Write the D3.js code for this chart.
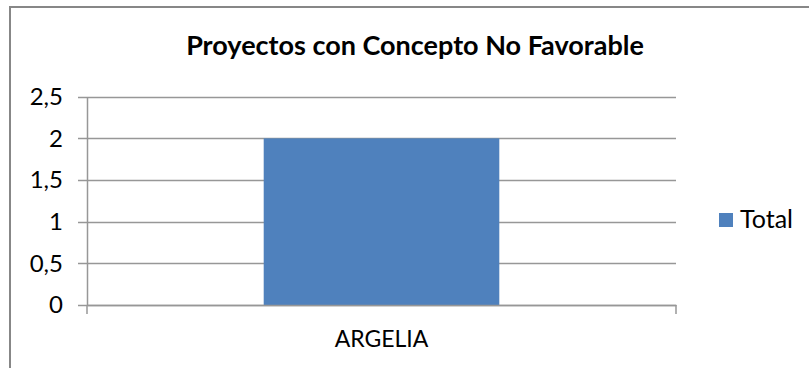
<!DOCTYPE html>
<html>
<head>
<meta charset="utf-8">
<script src="https://cdn.jsdelivr.net/npm/d3@7"></script>
<style>
  html, body { margin: 0; padding: 0; background: #fff; }
  svg { display: block; }
  text { font-family: Lato, "Open Sans", sans-serif; fill: #000; }
</style>
</head>
<body>
<svg id="chart" width="809" height="368"></svg>
<script>
const title = "Proyectos con Concepto No Favorable";
const categories = ["ARGELIA"];
const seriesName = "Total";
const values = [2];
const yTicks = [0, 0.5, 1, 1.5, 2, 2.5];
const yTickLabels = ["0", "0,5", "1", "1,5", "2", "2,5"];

const svg = d3.select("#chart");
const W = 809, H = 368;

// outer frame (cropped at right and bottom)
svg.append("rect")
  .attr("x", 10).attr("y", 7)
  .attr("width", W + 20).attr("height", H + 20)
  .attr("fill", "#fff")
  .attr("stroke", "#878787").attr("stroke-width", 2);

const plot = { left: 87, right: 676, top: 96.7, bottom: 305 };

const x = d3.scaleBand()
  .domain(categories)
  .range([plot.left, plot.right])
  .paddingInner(0)
  .paddingOuter(0.75);

const y = d3.scaleLinear()
  .domain([0, 2.5])
  .range([plot.bottom, plot.top]);

const gridColor = "#979797";

// gridlines
svg.append("g")
  .selectAll("line")
  .data(yTicks)
  .join("line")
  .attr("x1", plot.left - 9).attr("x2", plot.right)
  .attr("y1", d => Math.round(y(d)) + 0.5).attr("y2", d => Math.round(y(d)) + 0.5)
  .attr("stroke", gridColor).attr("stroke-width", 1.5);

// bars
svg.append("g")
  .selectAll("rect")
  .data(values)
  .join("rect")
  .attr("x", (d, i) => x(categories[i]))
  .attr("y", d => y(d))
  .attr("width", x.bandwidth())
  .attr("height", d => y(0) - y(d))
  .attr("fill", "#4F81BD");

// y axis
const yAxis = d3.axisLeft(y)
  .tickValues(yTicks)
  .tickFormat((d, i) => yTickLabels[i])
  .tickSize(0)
  .tickPadding(24);
const gy = svg.append("g").attr("transform", `translate(${plot.left},0)`).call(yAxis);
gy.select(".domain").attr("stroke", gridColor).attr("stroke-width", 1.5);
gy.selectAll("text")
  .attr("font-size", 24)
  .attr("font-family", "Lato, sans-serif")
  .attr("fill", "#000");

// x axis
const xAxis = d3.axisBottom(x).tickSize(0).tickPadding(26);
const gx = svg.append("g").attr("transform", `translate(0,${plot.bottom})`).call(xAxis);
gx.select(".domain").attr("stroke", gridColor).attr("stroke-width", 1.5);
gx.selectAll("text")
  .attr("font-size", 23)
  .attr("font-family", "Lato, sans-serif")
  .attr("fill", "#000");
// category boundary tick marks
const bounds = [plot.left, plot.right];
svg.append("g")
  .selectAll("line")
  .data(bounds)
  .join("line")
  .attr("x1", d => d).attr("x2", d => d)
  .attr("y1", plot.bottom).attr("y2", plot.bottom + 9)
  .attr("stroke", gridColor).attr("stroke-width", 1.5);

// title
svg.append("text")
  .attr("x", 415).attr("y", 55)
  .attr("text-anchor", "middle")
  .attr("font-size", 27)
  .attr("font-weight", "bold")
  .text(title);

// legend
const lg = svg.append("g").attr("transform", "translate(719,213)");
lg.append("rect").attr("width", 14).attr("height", 14).attr("fill", "#4F81BD");
lg.append("text").attr("x", 21).attr("y", 14.5).attr("font-size", 25).text(seriesName);
</script>
</body>
</html>
